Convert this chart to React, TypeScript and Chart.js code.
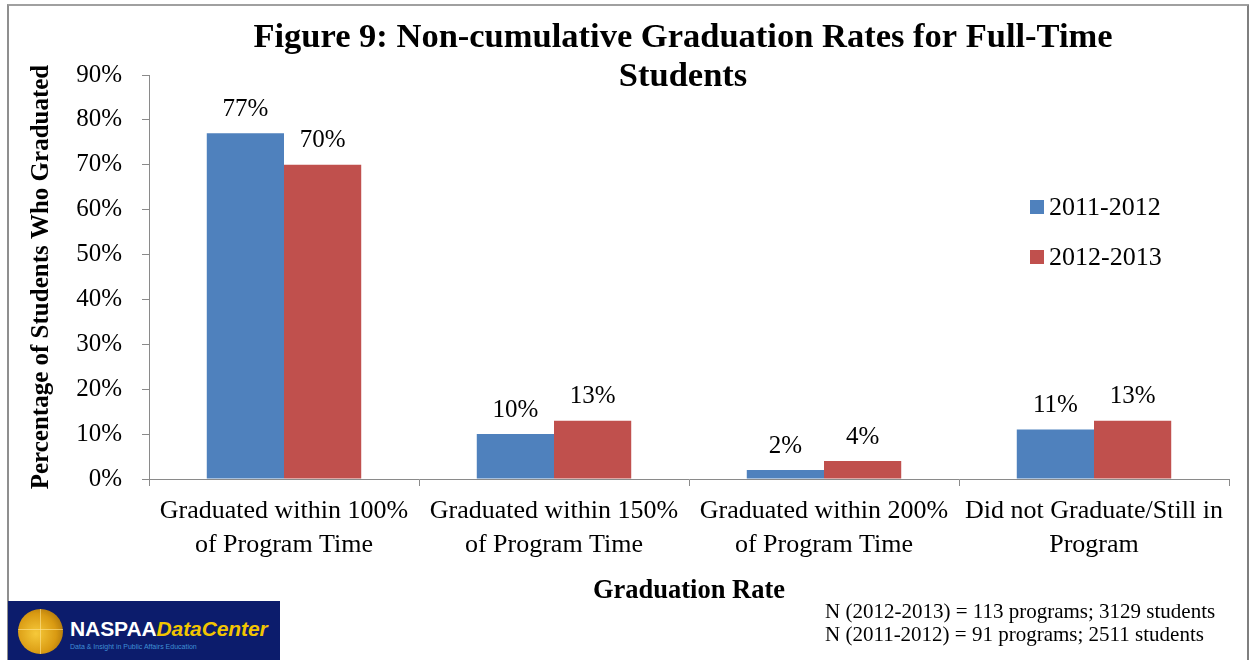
import React, { useEffect, useRef } from "react";
import { Chart, registerables } from "chart.js";

Chart.register(...registerables);

const categories: string[][] = [
  ["Graduated within 100%", "of Program Time"],
  ["Graduated within 150%", "of Program Time"],
  ["Graduated within 200%", "of Program Time"],
  ["Did not Graduate/Still in", "Program"],
];
const series2011: number[] = [77, 10, 2, 11];
const series2012: number[] = [70, 13, 4, 13];
const seriesLabels: string[] = ["2011-2012", "2012-2013"];
const seriesColors: string[] = ["#4F81BD", "#C0504D"];
const titleLines: string[] = ["Figure 9: Non-cumulative Graduation Rates for Full-Time", "Students"];
const yAxisTitle = "Percentage of Students Who Graduated";
const xAxisTitle = "Graduation Rate";
const footnotes: string[] = [
  "N (2012-2013) = 113 programs; 3129 students",
  "N (2011-2012) = 91 programs; 2511 students",
];

const SERIF = "'Liberation Serif', 'Times New Roman', serif";

const overlayPlugin = {
  id: "overlay",
  afterDraw(chart: any) {
    const ctx = chart.ctx;
    ctx.save();
    // Title
    ctx.fillStyle = "#000";
    ctx.textAlign = "center";
    ctx.textBaseline = "alphabetic";
    ctx.font = `bold 34.5px ${SERIF}`;
    ctx.fillText(titleLines[0], 683, 47);
    ctx.fillText(titleLines[1], 683, 86);

    // Data labels
    ctx.font = `25px ${SERIF}`;
    ctx.textBaseline = "middle";
    chart.data.datasets.forEach((ds: any, i: number) => {
      const meta = chart.getDatasetMeta(i);
      meta.data.forEach((bar: any, j: number) => {
        ctx.fillText(ds.data[j] + "%", bar.x, bar.y - 24);
      });
    });

    // Legend
    ctx.textAlign = "left";
    ctx.font = `26px ${SERIF}`;
    seriesLabels.forEach((lab, i) => {
      const y = 207 + i * 50;
      ctx.fillStyle = seriesColors[i];
      ctx.fillRect(1030, y - 7, 14, 14);
      ctx.fillStyle = "#000";
      ctx.fillText(lab, 1049, y + 1);
    });

    // Footnotes
    ctx.font = `21px ${SERIF}`;
    footnotes.forEach((t, i) => {
      ctx.fillText(t, 825, 612 + i * 23);
    });
    ctx.restore();
  },
};

function Logo() {
  return (
    <div
      style={{
        position: "absolute",
        left: 8,
        top: 601,
        width: 272,
        height: 59,
        background: "#0c1c6c",
        overflow: "hidden",
      }}
    >
      <div
        style={{
          position: "absolute",
          left: 10,
          top: 8,
          width: 45,
          height: 45,
          borderRadius: "50%",
          background: "radial-gradient(circle at 40% 55%, #f6c93a 0%, #d99a12 55%, #8a5a08 100%)",
        }}
      >
        <div style={{ position: "absolute", left: 22, top: 0, width: 1, height: 45, background: "rgba(255,230,150,0.6)" }} />
        <div style={{ position: "absolute", left: 0, top: 20, width: 45, height: 1, background: "rgba(255,230,150,0.6)" }} />
      </div>
      <div
        style={{
          position: "absolute",
          left: 62,
          top: 17,
          fontFamily: "'Liberation Sans', Arial, sans-serif",
          fontWeight: "bold",
          fontSize: 21,
          lineHeight: "22px",
          whiteSpace: "nowrap",
          letterSpacing: "-0.1px",
        }}
      >
        <span style={{ color: "#ffffff" }}>NASPAA</span>
        <span style={{ color: "#f2c500", fontStyle: "italic" }}>DataCenter</span>
      </div>
      <div
        style={{
          position: "absolute",
          left: 62,
          top: 42,
          fontFamily: "'Liberation Sans', Arial, sans-serif",
          fontSize: 7,
          color: "#3f8fd6",
          whiteSpace: "nowrap",
        }}
      >
        Data &amp; Insight in Public Affairs Education
      </div>
    </div>
  );
}

export default function App() {
  const canvasRef = useRef<HTMLCanvasElement | null>(null);

  useEffect(() => {
    if (!canvasRef.current) return;
    const axisColor = "#8a8a8a";
    const chart = new Chart(canvasRef.current, {
      type: "bar",
      data: {
        labels: categories,
        datasets: [
          { label: seriesLabels[0], data: series2011, backgroundColor: seriesColors[0] },
          { label: seriesLabels[1], data: series2012, backgroundColor: seriesColors[1] },
        ],
      },
      options: {
        animation: false,
        responsive: false,
        maintainAspectRatio: false,
        layout: { padding: { left: 0, top: 75, right: 20, bottom: 0 } },
        datasets: { bar: { categoryPercentage: 0.572, barPercentage: 1.0 } },
        plugins: {
          legend: { display: false },
          title: { display: false },
          tooltip: { enabled: false },
        },
        scales: {
          x: {
            afterFit: (s: any) => {
              s.height = 181;
            },
            grid: { display: true, drawOnChartArea: false, tickLength: 7, color: axisColor, offset: true },
            border: { display: true, color: axisColor, width: 1 },
            ticks: {
              color: "#000",
              font: { family: SERIF, size: 26, lineHeight: 1.28 },
              padding: 9,
              maxRotation: 0,
              autoSkip: false,
            },
            title: {
              display: true,
              text: xAxisTitle,
              color: "#000",
              font: { family: SERIF, size: 26.5, weight: "bold", lineHeight: 1.2 },
              padding: { top: 0, bottom: 53 },
            },
          },
          y: {
            min: 0,
            max: 90,
            afterFit: (s: any) => {
              s.width = 149;
            },
            grid: { display: true, drawOnChartArea: false, tickLength: 7, color: axisColor },
            border: { display: true, color: axisColor, width: 1 },
            ticks: {
              stepSize: 10,
              color: "#000",
              font: { family: SERIF, size: 25 },
              padding: 20,
              callback: (v: any) => v + "%",
            },
            title: {
              display: true,
              text: yAxisTitle,
              color: "#000",
              font: { family: SERIF, size: 25, weight: "bold", lineHeight: 1.2 },
              padding: { top: 27, bottom: 0 },
            },
          },
        },
      },
      plugins: [overlayPlugin],
    });
    return () => chart.destroy();
  }, []);

  return (
    <div style={{ position: "fixed", left: 0, top: 0, width: 1249, height: 660, background: "#fff", overflow: "hidden" }}>
      <div
        style={{
          position: "absolute",
          left: 7,
          top: 4,
          width: 1238,
          height: 700,
          borderLeft: "2px solid #8f8f8f",
          borderTop: "2px solid #a0a0a0",
          borderRight: "3px solid #7f7f7f",
        }}
      />
      <canvas ref={canvasRef} width={1249} height={660} style={{ position: "absolute", left: 0, top: 0 }} />
      <Logo />
    </div>
  );
}
